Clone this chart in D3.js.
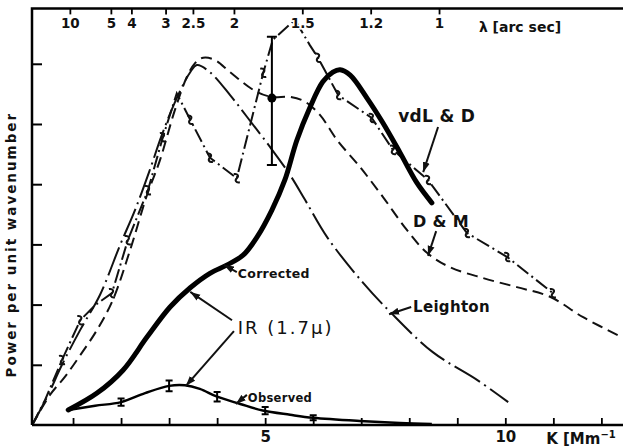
<!DOCTYPE html>
<html lang="en">
<head>
  <meta charset="UTF-8">
  <title>Power spectrum</title>
  <style>
    body { margin: 0; background: #fff; }
    svg { display: block; }
    text { font-family: "DejaVu Sans", sans-serif; fill: #111; }
  </style>
</head>
<body>
  <script src="https://cdn.jsdelivr.net/npm/d3@7"></script>
  <script>
    // axes
    let kTicks = [1, 2, 3, 4, 5, 6, 7, 8, 9, 10, 11, 12];
    let kLabels = [5, 10];
    let pTicks = [1, 2, 3, 4, 5, 6];
    let lambdaTicks = [10, 5, 4, 3, 2.5, 2, 1.5, 1.2, 1];

    // IR (1.7 micron), corrected
    let corrK = [0.9, 1.5, 2.04, 2.54, 3.02, 3.44, 3.85, 4.21, 4.54, 4.83, 5.14, 5.41, 5.66, 5.93, 6.2, 6.41, 6.56, 6.77, 7.12, 7.45, 7.81, 8.16, 8.47];
    let corrP = [0.25, 0.53, 0.91, 1.46, 1.96, 2.28, 2.52, 2.66, 2.82, 3.12, 3.57, 4.07, 4.73, 5.27, 5.7, 5.86, 5.9, 5.81, 5.43, 5.02, 4.52, 4.02, 3.69];

    // IR (1.7 micron), observed
    let obsK = [0.9, 1.46, 2.0, 2.5, 3.0, 3.33, 3.64, 4.0, 4.48, 4.95, 5.52, 6.0, 6.97, 7.81, 8.47];
    let obsP = [0.25, 0.32, 0.38, 0.53, 0.65, 0.66, 0.6, 0.47, 0.35, 0.24, 0.17, 0.12, 0.066, 0.033, 0.017];
    let obsErrK = [2, 3, 4, 5, 6];
    let obsErrP = [0.38, 0.65, 0.47, 0.24, 0.12];
    let obsErrHalf = [0.06, 0.09, 0.08, 0.06, 0.04];

    // single point with error bar
    let ptK = [5.14];
    let ptP = [5.43];
    let ptLo = [4.32];
    let ptHi = [6.45];

    // D & M
    let dmK = [0.15, 0.52, 0.83, 1.15, 1.5, 1.83, 2.19, 2.54, 2.81, 3.12, 3.37, 3.54, 3.71, 3.96, 4.27, 4.83, 5.14, 5.52, 5.83, 6.14, 6.5, 6.97, 7.45, 7.95, 8.37, 8.85, 9.54, 10.24, 10.93, 11.62, 12.45];
    let dmP = [0, 0.5, 0.8, 1.16, 1.58, 2.08, 2.91, 3.82, 4.4, 5.23, 5.78, 6.01, 6.1, 6.06, 5.86, 5.53, 5.45, 5.45, 5.37, 5.15, 4.73, 4.29, 3.79, 3.24, 2.86, 2.62, 2.44, 2.29, 2.13, 1.79, 1.45];

    // Leighton
    let leiK = [0.15, 0.48, 0.77, 1.15, 1.56, 1.98, 2.29, 2.6, 2.85, 3.16, 3.44, 3.58, 3.85, 4.27, 4.62, 5.1, 5.52, 5.83, 6.29, 7.04, 7.6, 8.49, 9.41, 10.06];
    let leiP = [0, 0.5, 1.0, 1.58, 2.16, 2.99, 3.57, 4.24, 4.82, 5.43, 5.86, 5.98, 5.86, 5.48, 5.12, 4.62, 4.15, 3.74, 3.12, 2.36, 1.88, 1.21, 0.75, 0.38];

    // vdL & D (points marked with ~)
    let vdlK = [0.15, 0.42, 0.77, 1.15, 1.46, 1.81, 2.14, 2.56, 2.87, 3.16, 3.44, 3.85, 4.41, 4.96, 5.16, 5.62, 5.93, 6.1, 6.52, 7.22, 7.66, 8.39, 9.2, 10.04, 10.99];
    let vdlP = [0, 0.42, 1.08, 1.74, 1.99, 2.19, 3.07, 3.9, 4.78, 5.51, 5.07, 4.44, 4.1, 5.85, 6.4, 6.73, 6.31, 6.1, 5.48, 5.1, 4.57, 4.07, 3.19, 2.79, 2.19];
    let vdlMark = [0, 0, 1, 1, 0, 1, 1, 1, 1, 0, 1, 1, 1, 1, 0, 0, 0, 1, 1, 1, 1, 1, 1, 1, 1];

    let width = 623,
      height = 447;

    let x = d3.scaleLinear().domain([0, 12.45]).range([25, 623]);
    let y = d3.scaleLinear().domain([0, 6.92]).range([425, 8.4]);
    let topK = lam => 0.08 + 8.54 / lam;
    let x0 = 32;

    let svg = d3.select("body")
      .append("svg")
      .attr("width", width)
      .attr("height", height);

    svg.append("defs").append("marker")
      .attr("id", "arr")
      .attr("markerUnits", "userSpaceOnUse")
      .attr("markerWidth", 10)
      .attr("markerHeight", 8)
      .attr("refX", 10)
      .attr("refY", 4)
      .attr("orient", "auto")
      .append("path")
      .attr("d", "M0,0.5 L10,4 L0,7.5 Z")
      .attr("fill", "#111");

    // curves
    let zip = (a, b) => a.map((v, i) => [v, b[i]]);
    let smooth = d3.line()
      .x(d => x(d[0]))
      .y(d => y(d[1]))
      .curve(d3.curveCatmullRom.alpha(0.5));
    let straight = d3.line()
      .x(d => x(d[0]))
      .y(d => y(d[1]));

    svg.append("path")
      .attr("d", smooth(zip(dmK, dmP)))
      .attr("fill", "none")
      .attr("stroke", "#111")
      .attr("stroke-width", 2)
      .attr("stroke-dasharray", "11,6");

    svg.append("path")
      .attr("d", smooth(zip(leiK, leiP)))
      .attr("fill", "none")
      .attr("stroke", "#111")
      .attr("stroke-width", 2)
      .attr("stroke-dasharray", "30,5,2,5");

    svg.append("path")
      .attr("d", straight(zip(vdlK, vdlP)))
      .attr("fill", "none")
      .attr("stroke", "#111")
      .attr("stroke-width", 2)
      .attr("stroke-dasharray", "14,4,2,4");

    // ~ marks on vdL & D
    svg.selectAll(".tilde")
      .data(zip(vdlK, vdlP).filter((d, i) => vdlMark[i]))
      .enter()
      .append("path")
      .attr("class", "tilde")
      .attr("transform", d => `translate(${x(d[0])},${y(d[1])}) rotate(65)`)
      .attr("d", "M-5,1 C-4,-3 -1,-3 0,0 C1,3 4,3 5,-1")
      .attr("fill", "none")
      .attr("stroke", "#111")
      .attr("stroke-width", 2);

    svg.append("path")
      .attr("d", smooth(zip(corrK, corrP)))
      .attr("fill", "none")
      .attr("stroke", "#000")
      .attr("stroke-width", 5)
      .attr("stroke-linecap", "round");

    svg.append("path")
      .attr("d", smooth(zip(obsK, obsP)))
      .attr("fill", "none")
      .attr("stroke", "#000")
      .attr("stroke-width", 2.5);

    // error bars on observed
    let eb = svg.selectAll(".eb")
      .data(obsErrK.map((k, i) => ({ k: k, lo: obsErrP[i] - obsErrHalf[i], hi: obsErrP[i] + obsErrHalf[i] })))
      .enter()
      .append("g")
      .attr("class", "eb");
    eb.append("path")
      .attr("d", d => `M${x(d.k)},${y(d.lo)}V${y(d.hi)}M${x(d.k) - 3.5},${y(d.lo)}h7M${x(d.k) - 3.5},${y(d.hi)}h7`)
      .attr("stroke", "#000")
      .attr("stroke-width", 2)
      .attr("fill", "none");

    // big error bar with dot
    let pb = svg.selectAll(".pb")
      .data(ptK.map((k, i) => ({ k: k, p: ptP[i], lo: ptLo[i], hi: ptHi[i] })))
      .enter()
      .append("g")
      .attr("class", "pb");
    pb.append("path")
      .attr("d", d => `M${x(d.k)},${y(d.lo)}V${y(d.hi)}M${x(d.k) - 5},${y(d.lo)}h10M${x(d.k) - 5},${y(d.hi)}h10`)
      .attr("stroke", "#000")
      .attr("stroke-width", 2)
      .attr("fill", "none");
    pb.append("circle")
      .attr("cx", d => x(d.k))
      .attr("cy", d => y(d.p))
      .attr("r", 4.5)
      .attr("fill", "#000");

    // frame + axes
    svg.append("path")
      .attr("d", `M${x0},${y(0)}V${y.range()[1]}H${width}`)
      .attr("fill", "none")
      .attr("stroke", "#000")
      .attr("stroke-width", 2.5);

    let yAxis = svg.append("g")
      .attr("transform", `translate(${x0},0)`)
      .call(d3.axisRight(y).tickValues(pTicks).tickSize(10).tickFormat(""));
    yAxis.select(".domain").remove();
    yAxis.selectAll("line").attr("stroke-width", 2);

    let xAxis = svg.append("g")
      .attr("transform", `translate(0,${y(0)})`)
      .call(d3.axisBottom(x).tickValues(kTicks).tickSize(-7).tickPadding(6)
        .tickFormat(d => kLabels.includes(d) ? d : ""));
    xAxis.select(".domain").remove();
    xAxis.selectAll("line").attr("stroke-width", 1.8);
    xAxis.selectAll("text")
      .style("font-family", "DejaVu Sans")
      .style("font-size", "15px")
      .style("font-weight", "bold")
      .attr("fill", "#111");
    svg.append("line")
      .attr("x1", x0).attr("x2", width)
      .attr("y1", y(0)).attr("y2", y(0))
      .attr("stroke", "#000")
      .attr("stroke-width", 2.5);

    let topAxis = svg.append("g")
      .attr("transform", `translate(0,${y.range()[1]})`)
      .call(d3.axisBottom(x).tickValues(lambdaTicks.map(topK)).tickSize(6).tickPadding(4)
        .tickFormat((d, i) => lambdaTicks[i]));
    topAxis.select(".domain").remove();
    topAxis.selectAll("line").attr("stroke-width", 1.8);
    topAxis.selectAll("text")
      .style("font-family", "DejaVu Sans")
      .style("font-size", "13.5px")
      .style("font-weight", "bold")
      .attr("fill", "#111")
      .attr("stroke", "#fff")
      .attr("stroke-width", 3)
      .attr("paint-order", "stroke");

    svg.append("text")
      .attr("x", x(9.45))
      .attr("y", 32)
      .style("font-size", "14px")
      .style("font-weight", "bold")
      .text("λ [arc sec]");

    svg.append("text")
      .attr("x", x(10.85))
      .attr("y", 444)
      .style("font-size", "15px")
      .style("font-weight", "bold")
      .html("K [Mm<tspan dy='-6' font-size='10px'>−1</tspan>");

    svg.append("text")
      .attr("transform", `translate(16,${(y(0) + y.range()[1]) / 2 + 28}) rotate(-90)`)
      .attr("text-anchor", "middle")
      .style("font-size", "13.5px")
      .style("font-weight", "bold")
      .style("letter-spacing", "2px")
      .text("Power per unit wavenumber");

    // labels and arrows
    let notes = [
      { t: "vdL & D", k: 7.77, p: 5.03, size: 17, from: [8.6, 4.95], to: [8.29, 4.2] },
      { t: "D & M", k: 8.08, p: 3.29, size: 16, from: [8.56, 3.22], to: [8.39, 2.81] },
      { t: "Leighton", k: 8.08, p: 1.88, size: 15, from: [8.04, 1.96], to: [7.58, 1.84] },
      { t: "Corrected", k: 4.43, p: 2.44, size: 12.5, from: [4.41, 2.54], to: [4.14, 2.66] },
      { t: "IR (1.7μ)", k: 4.43, p: 1.51, size: 18, from: [4.31, 1.74], to: [3.44, 2.21] },
      { t: "", k: 0, p: 0, size: 0, from: [4.35, 1.56], to: [3.35, 0.65] },
      { t: "Observed", k: 4.64, p: 0.38, size: 11.5, from: [4.62, 0.5], to: [4.39, 0.35] }
    ];

    svg.selectAll(".arrow")
      .data(notes)
      .enter()
      .append("line")
      .attr("class", "arrow")
      .attr("x1", d => x(d.from[0]))
      .attr("y1", d => y(d.from[1]))
      .attr("x2", d => x(d.to[0]))
      .attr("y2", d => y(d.to[1]))
      .attr("stroke", "#111")
      .attr("stroke-width", 2)
      .attr("marker-end", "url(#arr)");

    svg.selectAll(".note")
      .data(notes.filter(d => d.t))
      .enter()
      .append("text")
      .attr("class", "note")
      .attr("x", d => x(d.k))
      .attr("y", d => y(d.p))
      .style("font-size", d => d.size + "px")
      .style("font-weight", d => d.t.startsWith("IR") ? "500" : "bold")
      .style("letter-spacing", d => d.t.startsWith("IR") ? "2px" : "0.3px")
      .text(d => d.t);
  </script>
</body>
</html>
